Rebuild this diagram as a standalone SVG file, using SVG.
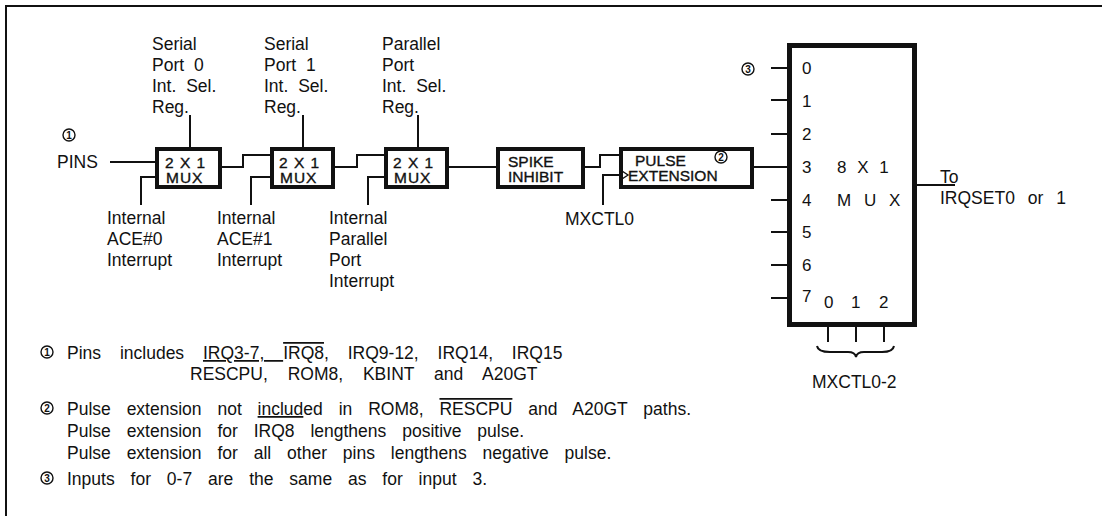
<svg xmlns="http://www.w3.org/2000/svg" width="1102" height="516" viewBox="0 0 1102 516">
<style>
text{font-family:"Liberation Sans",Arial,Helvetica,sans-serif;fill:#111}
.lbl{font-size:17.5px;word-spacing:5px}
.bt{font-size:15.5px;letter-spacing:1px;stroke:#111;stroke-width:0.35}
.note{font-size:17.5px;word-spacing:11px}
.num{font-size:17px}
.cn{font-size:10px;text-anchor:middle;font-weight:bold}
.box{fill:#fff;stroke:#111;stroke-width:4}
.w{fill:none;stroke:#111;stroke-width:2}
.c{fill:none;stroke:#111;stroke-width:1.4}
</style>
<rect width="1102" height="516" fill="#fff"/>
<g id="frame"><path class="w" d="M1102,6 H6 V516"/></g>
<g id="connectors">
<path class="w" d="M110,162 H155"/>
<path class="w" d="M190,115 V147"/>
<path class="w" d="M141,205 V177 H155"/>
<path class="w" d="M222,167 H243 V155 H270"/>
<path class="w" d="M303,115 V147"/>
<path class="w" d="M251,205 V177 H270"/>
<path class="w" d="M333,167 H357 V155 H384"/>
<path class="w" d="M418,115 V147"/>
<path class="w" d="M368,205 V177 H384"/>
<path class="w" d="M447,167 H496"/>
<path class="w" d="M583,167 H600 V155 H619"/>
<path class="w" d="M603,205 V175 H619"/>
<path class="w" d="M752,167 H788"/>
<path class="w" d="M771,68 H788 M771,100 H788 M771,134 H788 M771,200 H788 M771,232 H788 M771,265 H788 M771,298 H788"/>
<path class="w" d="M917,185 H955"/>
<path class="w" d="M828,326 V342 M856,326 V342 M884,326 V342"/>
<path class="w" d="M817,346 Q818,352 830,352 H848 Q855,352 856,357 Q857,352 864,352 H882 Q893,352 894,346"/>
</g>
<g id="pins">
<circle class="c" cx="69" cy="135" r="6"/><text class="cn" x="69" y="138.5">1</text>
<text class="lbl" x="57" y="168">PINS</text>
</g>
<g id="mux1">
<rect class="box" x="157" y="149" width="63" height="38"/>
<text class="bt" x="165" y="168">2 X 1</text>
<text class="bt" x="166" y="183">MUX</text>
</g>
<g id="mux2">
<rect class="box" x="272" y="149" width="61" height="38"/>
<text class="bt" x="279" y="168">2 X 1</text>
<text class="bt" x="280" y="183">MUX</text>
</g>
<g id="mux3">
<rect class="box" x="386" y="149" width="61" height="38"/>
<text class="bt" x="393" y="168">2 X 1</text>
<text class="bt" x="394" y="183">MUX</text>
</g>
<g id="spike">
<rect class="box" x="498" y="149" width="85" height="38"/>
<text class="bt" x="508" y="167" style="letter-spacing:0">SPIKE</text>
<text class="bt" x="508" y="182" style="letter-spacing:0">INHIBIT</text>
</g>
<g id="pulse">
<rect class="box" x="621" y="149" width="131" height="38"/>
<text class="bt" x="635" y="166" style="letter-spacing:0">PULSE</text>
<text class="bt" x="628" y="181" style="letter-spacing:0">EXTENSION</text>
<path class="c" d="M622,171 L628,175 L622,179"/>
<circle class="c" cx="721" cy="157" r="6"/><text class="cn" x="721" y="160.5">2</text>
</g>
<g id="sp0-label">
<text class="lbl" x="152" y="50">Serial</text>
<text class="lbl" x="152" y="71">Port 0</text>
<text class="lbl" x="152" y="92">Int. Sel.</text>
<text class="lbl" x="152" y="113">Reg.</text>
</g>
<g id="sp1-label">
<text class="lbl" x="264" y="50">Serial</text>
<text class="lbl" x="264" y="71">Port 1</text>
<text class="lbl" x="264" y="92">Int. Sel.</text>
<text class="lbl" x="264" y="113">Reg.</text>
</g>
<g id="pp-label">
<text class="lbl" x="382" y="50">Parallel</text>
<text class="lbl" x="382" y="71">Port</text>
<text class="lbl" x="382" y="92">Int. Sel.</text>
<text class="lbl" x="382" y="113">Reg.</text>
</g>
<g id="ace0-label">
<text class="lbl" x="107" y="224">Internal</text>
<text class="lbl" x="107" y="245">ACE#0</text>
<text class="lbl" x="107" y="266">Interrupt</text>
</g>
<g id="ace1-label">
<text class="lbl" x="217" y="224">Internal</text>
<text class="lbl" x="217" y="245">ACE#1</text>
<text class="lbl" x="217" y="266">Interrupt</text>
</g>
<g id="ppi-label">
<text class="lbl" x="329" y="224">Internal</text>
<text class="lbl" x="329" y="245">Parallel</text>
<text class="lbl" x="329" y="266">Port</text>
<text class="lbl" x="329" y="287">Interrupt</text>
</g>
<g id="mxctl0">
<text class="lbl" x="565" y="225">MXCTL0</text>
</g>
<g id="mux8">
<rect class="box" x="789.5" y="45.5" width="125" height="279" style="stroke-width:5"/>
<circle class="c" cx="748" cy="69" r="6"/><text class="cn" x="748" y="72.5">3</text>
<text class="num" x="802" y="74">0</text>
<text class="num" x="802" y="107">1</text>
<text class="num" x="802" y="140">2</text>
<text class="num" x="802" y="173">3</text>
<text class="num" x="802" y="206">4</text>
<text class="num" x="802" y="238">5</text>
<text class="num" x="802" y="271">6</text>
<text class="num" x="802" y="302">7</text>
<text class="num" x="837" y="173" style="word-spacing:6px">8 X 1</text>
<text class="num" x="837" y="206" style="word-spacing:4px;letter-spacing:2px">M U X</text>
<text class="num" x="824" y="308">0</text>
<text class="num" x="851" y="308">1</text>
<text class="num" x="879" y="308">2</text>
</g>
<g id="out-label">
<text class="lbl" x="940" y="183">To</text>
<text class="lbl" x="940" y="204" style="word-spacing:8px">IRQSET0 or 1</text>
</g>
<g id="mxctl02">
<text class="lbl" x="812" y="388">MXCTL0-2</text>
</g>
<g id="notes">
<circle class="c" cx="47" cy="352" r="6"/><text class="cn" x="47" y="355.5">1</text>
<text class="note" x="67" y="359" style="word-spacing:14px">Pins includes <tspan text-decoration="underline">IRQ3-7, </tspan><tspan text-decoration="overline">IRQ8</tspan>, IRQ9-12, IRQ14, IRQ15</text>
<text class="note" x="190" y="380" style="word-spacing:15px">RESCPU, ROM8, KBINT and A20GT</text>
<circle class="c" cx="47" cy="408" r="6"/><text class="cn" x="47" y="411.5">2</text>
<text class="note" x="67" y="415">Pulse extension not <tspan text-decoration="underline">includ</tspan>ed in ROM8, <tspan text-decoration="overline">RESCPU</tspan> and A20GT paths.</text>
<text class="note" x="67" y="437">Pulse extension for IRQ8 lengthens positive pulse.</text>
<text class="note" x="67" y="459">Pulse extension for all other pins lengthens negative pulse.</text>
<circle class="c" cx="47" cy="478" r="6"/><text class="cn" x="47" y="481.5">3</text>
<text class="note" x="67" y="485">Inputs for 0-7 are the same as for input 3.</text>
</g>
</svg>
